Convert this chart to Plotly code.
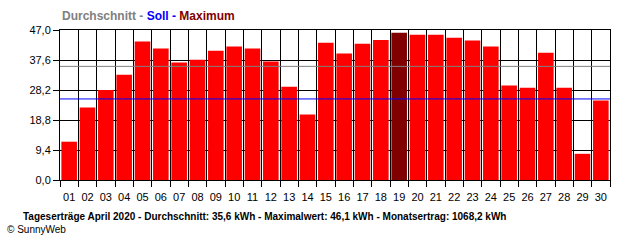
import plotly.graph_objects as go

days = [f"{d:02d}" for d in range(1, 31)]
yields_kwh = [12.0, 22.7, 28.2, 33.0, 43.4, 41.2, 36.8, 37.7, 40.5, 41.8,
              41.2, 37.1, 29.2, 20.5, 43.0, 39.6, 42.7, 43.9, 46.1, 45.5,
              45.5, 44.6, 43.7, 41.8, 29.6, 28.9, 39.9, 28.9, 8.2, 24.9]
average_kwh = 35.6
target_kwh = 25.4
y_ticks = [0.0, 9.4, 18.8, 28.2, 37.6, 47.0]
y_tick_labels = ["0,0", "9,4", "18,8", "28,2", "37,6", "47,0"]
legend_text = ("<b><span style='color:#808080'>Durchschnitt - </span>"
               "<span style='color:#0000FF'>Soll - </span>"
               "<span style='color:#800000'>Maximum</span></b>")
footer_text = ("<b>Tageserträge April 2020 - Durchschnitt: 35,6 kWh - "
               "Maximalwert: 46,1 kWh - Monatsertrag: 1068,2 kWh</b>")
copyright_text = "© SunnyWeb"

max_val = max(yields_kwh)
colors = ["#800000" if v == max_val else "#FF0000" for v in yields_kwh]

FONT = "Liberation Sans"

fig = go.Figure()
fig.add_trace(go.Bar(x=days, y=yields_kwh, marker=dict(color=colors, line=dict(width=0)),
                     hoverinfo="x+y"))

fig.add_shape(type="line", xref="paper", yref="y", x0=0, x1=1, y0=average_kwh, y1=average_kwh,
              line=dict(color="#808080", width=1), layer="above")
fig.add_shape(type="line", xref="paper", yref="y", x0=0, x1=1, y0=target_kwh, y1=target_kwh,
              line=dict(color="#0000FF", width=1), layer="above")

fig.update_layout(
    width=640, height=240,
    margin=dict(l=60, r=30, t=30, b=60),
    paper_bgcolor="white", plot_bgcolor="white",
    bargap=0.15,
    showlegend=False,
    separators=",.",
    font=dict(family=FONT, size=11, color="black"),
    xaxis=dict(type="category", categoryorder="array", categoryarray=days,
               tickson="boundaries", showgrid=True, gridcolor="black", gridwidth=1,
               ticks="outside", ticklen=6, tickcolor="black", tickwidth=1, tickangle=0,
               ticklabelstandoff=7,
               showline=True, linecolor="black", linewidth=1, mirror=True,
               tickfont=dict(family=FONT, size=11, color="black"), fixedrange=True),
    yaxis=dict(range=[0, 47], tickvals=y_ticks, ticktext=y_tick_labels,
               showgrid=True, gridcolor="black", gridwidth=1, zeroline=False,
               ticks="outside", ticklen=6, tickcolor="black", tickwidth=1,
               showline=True, linecolor="black", linewidth=1, mirror=True,
               tickfont=dict(family=FONT, size=11, color="black"), fixedrange=True),
    annotations=[
        dict(text=legend_text, xref="paper", yref="paper", x=0, y=1, xanchor="left",
             yanchor="bottom", yshift=5, showarrow=False,
             font=dict(family=FONT, size=12)),
        dict(text=footer_text, xref="paper", yref="paper", x=-39/550, y=0, xanchor="left",
             yanchor="middle", yshift=-36, showarrow=False,
             font=dict(family=FONT, size=10, color="black")),
        dict(text=copyright_text, xref="paper", yref="paper", x=-55/550, y=0, xanchor="left",
             yanchor="middle", yshift=-49, showarrow=False,
             font=dict(family=FONT, size=10, color="black")),
    ],
)

fig.write_html("out.html")
